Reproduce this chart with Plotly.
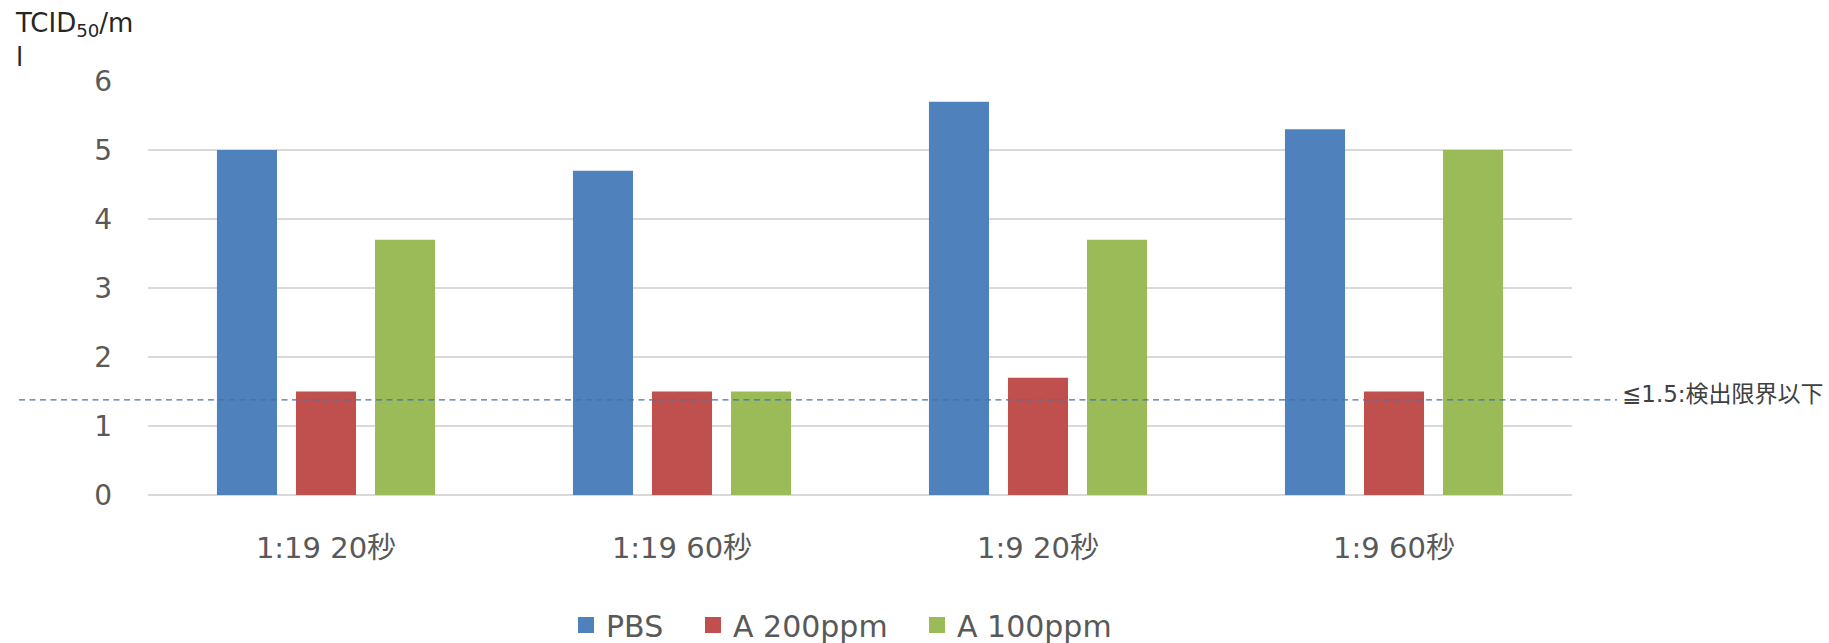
import plotly.graph_objects as go

# Categories (dilution ratio and contact time) and measured titres
categories = ["1:19 20秒", "1:19 60秒", "1:9 20秒", "1:9 60秒"]
pbs = [5.0, 4.7, 5.7, 5.3]
a200 = [1.5, 1.5, 1.7, 1.5]
a100 = [3.7, 1.5, 3.7, 5.0]
series_names = ["PBS", "A 200ppm", "A 100ppm"]
series_colors = ["#4f81bd", "#c0504d", "#9bbb59"]
y_ticks = [0, 1, 2, 3, 4, 5, 6]

# Detection limit reference line and its label
limit_line = 1.38
limit_label = "≦1.5:検出限界以下"

FONT = "DejaVu Sans, Noto Sans CJK JP, sans-serif"
TEXT_GRAY = "#595959"

# per-entry legend widths (px) so entries are spaced evenly
legend_widths = [82, 179, 150]

fig = go.Figure()
for name, vals, color in zip(series_names, [pbs, a200, a100], series_colors):
    fig.add_trace(go.Bar(x=categories, y=vals, name=name, marker_color=color,
                         marker_line_width=0, showlegend=False))

# legend entries with larger square swatches
for name, color, lw in zip(series_names, series_colors, legend_widths):
    fig.add_trace(go.Scatter(x=[None], y=[None], mode="markers", name=name,
                             marker=dict(symbol="square", size=20, color=color),
                             legendwidth=lw, hoverinfo="skip"))

fig.add_shape(type="line", xref="paper", yref="y",
              x0=-0.0906, x1=1.0316, y0=limit_line, y1=limit_line,
              line=dict(color="#4a72a6", width=1.2, dash="6px,4.5px"))

fig.add_annotation(xref="paper", yref="y", x=1.0337, y=limit_line,
                   text=limit_label, showarrow=False, xanchor="left",
                   yanchor="middle", yshift=6,
                   font=dict(family=FONT, size=23, color="#404040"))

fig.add_annotation(xref="paper", yref="paper", x=-0.0945, y=1.182,
                   text="TCID<sub>50</sub>/m<br>l", showarrow=False,
                   xanchor="left", yanchor="top", align="left",
                   font=dict(family=FONT, size=26, color="#262626"))

fig.update_layout(
    width=1829, height=643,
    margin=dict(l=148, r=257, t=81, b=148),
    paper_bgcolor="white", plot_bgcolor="white",
    barmode="group", bargap=0.334, bargroupgap=0.24,
    font=dict(family=FONT, color=TEXT_GRAY),
    showlegend=True,
    legend=dict(orientation="h", xref="container", x=566 / 1829,
                xanchor="left", yref="container", y=0.028, yanchor="middle",
                font=dict(family=FONT, size=30, color=TEXT_GRAY),
                itemwidth=30, traceorder="normal"),
)
fig.update_xaxes(showline=False, showgrid=False, ticks="", automargin=False,
                 tickfont=dict(family=FONT, size=29, color=TEXT_GRAY),
                 ticklabelstandoff=33)
fig.update_yaxes(range=[0, 6], tickvals=y_ticks, showgrid=True, automargin=False,
                 gridcolor="#d9d9d9", gridwidth=1.5, zeroline=True,
                 zerolinecolor="#d9d9d9", zerolinewidth=1.5, showline=False,
                 ticks="", tickfont=dict(family=FONT, size=28, color=TEXT_GRAY),
                 ticklabelstandoff=35)

fig.write_html("out.html")
